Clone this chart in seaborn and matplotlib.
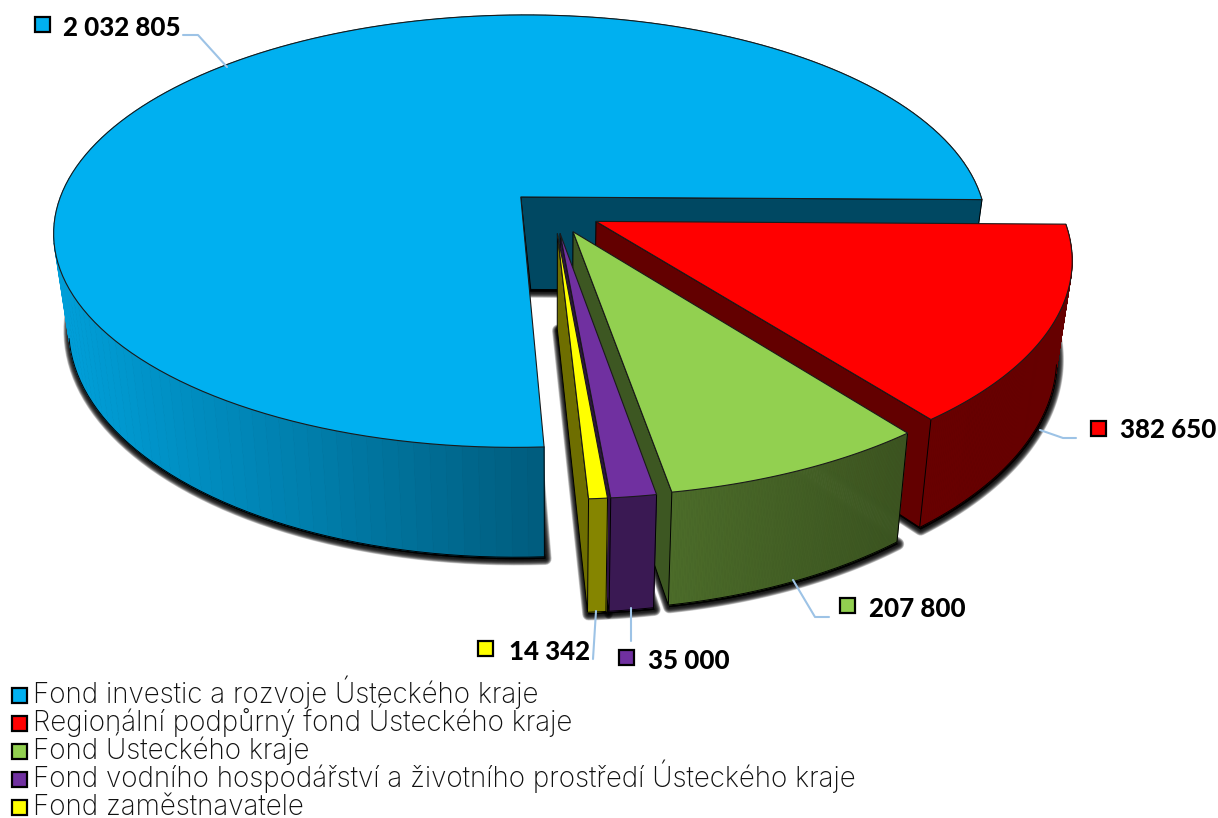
import numpy as np
import matplotlib.pyplot as plt
from matplotlib.patches import Polygon, Rectangle
import seaborn as sns

fund_names = [
    'Fond investic a rozvoje Ústeckého kraje',
    'Regionální podpůrný fond Ústeckého kraje',
    'Fond Ústeckého kraje',
    'Fond vodního hospodářství a životního prostředí Ústeckého kraje',
    'Fond zaměstnavatele',
]
fund_values = [2032805, 382650, 207800, 35000, 14342]
fund_colors = ['#00B0F0', '#FF0000', '#92D050', '#7030A0', '#FFFF00']

# position of the number label for each slice: marker x, marker y, text x, baseline y
label_spots = [(35, 17, 63, 36), (1091, 421, 1120, 438), (840, 598, 869, 617),
               (619, 650, 648, 669), (478, 641, 509, 660)]
leader_xs = [[183, 198, 227], [1040, 1063, 1076], [793, 815, 829], [631, 631], [596, 593]]
leader_ys = [[35, 35, 67], [430, 438, 438], [580, 617, 617], [608, 641], [611, 659]]

# pie projection, fitted by eye
CX, CY = 554, 211.7
AX_X, AX_Y = 465.5, 215.5
TILT = 0.16
DEPTH = 93.5
SHRINK = 0.97
EXPLODE = 0.10
FIRST_ANGLE = 273.1

sns.set_theme(style='white')
plt.rcParams['font.family'] = ['Lato', 'DejaVu Sans']
palette = sns.color_palette(fund_colors)

fig = plt.figure(figsize=(12.18, 8.18), dpi=100)
ax = fig.add_axes([0, 0, 1, 1])
ax.set_xlim(0, 1218)
ax.set_ylim(818, 0)
ax.axis('off')


def project(u, v, z=0.0):
    s = 1 / (1 - TILT * v)
    x = CX + AX_X * u * s * (1 - (1 - SHRINK) * z)
    y = CY + AX_Y * v * s + DEPTH * z * s
    return x, y


def side_shade(x):
    return np.interp(x, [60, 300, 545, 672, 900, 1070], [0.90, 0.72, 0.52, 0.52, 0.41, 0.40])


def darker(color, k):
    return tuple(c * k for c in color)


def slice_outline(a1, a2, off, z):
    t = np.radians(np.linspace(a1, a2, 160))
    u = off[0] + np.cos(t)
    v = off[1] - np.sin(t)
    x, y = project(u, v, z)
    ax0, ay0 = project(off[0], off[1], z)
    return np.column_stack([np.r_[ax0, x], np.r_[ay0, y]])


# slices run clockwise from the first angle
spans = 360 * np.array(fund_values) / sum(fund_values)
slices = []
cur = FIRST_ANGLE
for span in spans:
    a1, a2 = cur - span, cur
    mid = np.radians((a1 + a2) / 2)
    slices.append((a1, a2, (EXPLODE * np.cos(mid), -EXPLODE * np.sin(mid))))
    cur = a1

# soft shadow under every slice
for a1, a2, off in slices:
    base = slice_outline(a1, a2, off, 1) + np.array([1, 2])
    for lw in np.linspace(9, 2, 12):
        ax.add_patch(Polygon(base, closed=True, fc='black', ec='black', lw=lw, alpha=0.17,
                             joinstyle='round', zorder=1))

wall_k = [0.41, 0.39, 0.42, 0.40, 0.43]
z = 2
for i, (a1, a2, off) in enumerate(slices):
    col = palette[i]
    top = slice_outline(a1, a2, off, 0)
    bot = slice_outline(a1, a2, off, 1)

    # outer rim, shaded strip by strip
    for j in range(1, len(top) - 1):
        xm = (top[j, 0] + top[j + 1, 0]) / 2
        c = darker(col, side_shade(xm))
        ax.add_patch(Polygon([top[j], top[j + 1], bot[j + 1], bot[j]], closed=True,
                             fc=c, ec=c, lw=0.6, zorder=z))
    z += 1
    # only the front part of the lower edge is in view
    angles = np.radians(np.linspace(a1, a2, 160))
    front = -np.sin(angles) > 0.2
    ax.plot(bot[1:, 0][front], bot[1:, 1][front], color='black', lw=0.7, zorder=z)
    if np.sin(np.radians(a2)) < -0.1:
        ax.plot([top[-1, 0], bot[-1, 0]], [top[-1, 1], bot[-1, 1]], color='black', lw=0.7, zorder=z)
    z += 1

    # cut face on the clockwise side, the only one that shows
    apex_bot = bot[0].copy()
    if i == 0:
        apex_bot[0] += 9
    ax.add_patch(Polygon([top[0], apex_bot, bot[1], top[1]], closed=True,
                         fc=darker(col, wall_k[i]), ec='black', lw=0.7, zorder=z))
    z += 1

    ax.add_patch(Polygon(top, closed=True, fc=col, ec='#1a1a1a', lw=0.8, zorder=z))
    z += 1

# leader lines and number labels
for i, val in enumerate(fund_values):
    ax.plot(leader_xs[i], leader_ys[i], color='#9DC3E6', lw=1.5, zorder=z)
    mx, my, tx, ty = label_spots[i]
    ax.add_patch(Rectangle((mx, my), 15, 15, fc=palette[i], ec='black', lw=1.6, zorder=z))
    ax.text(tx, ty, f'{val:,}'.replace(',', ' '), fontsize=18.6, fontweight='black',
            color='black', va='baseline', ha='left', zorder=z)

# legend
for i, name in enumerate(fund_names):
    ax.add_patch(Rectangle((11.5, 688 + 28 * i), 15, 15, fc=palette[i], ec='black', lw=1.6, zorder=z))
    ax.text(33, 703 + 28 * i, name, fontsize=20, color='#111111', va='baseline', ha='left',
            family=['Inter', 'DejaVu Sans'], fontweight='light', zorder=z)

fig.savefig('out.png', dpi=100)
